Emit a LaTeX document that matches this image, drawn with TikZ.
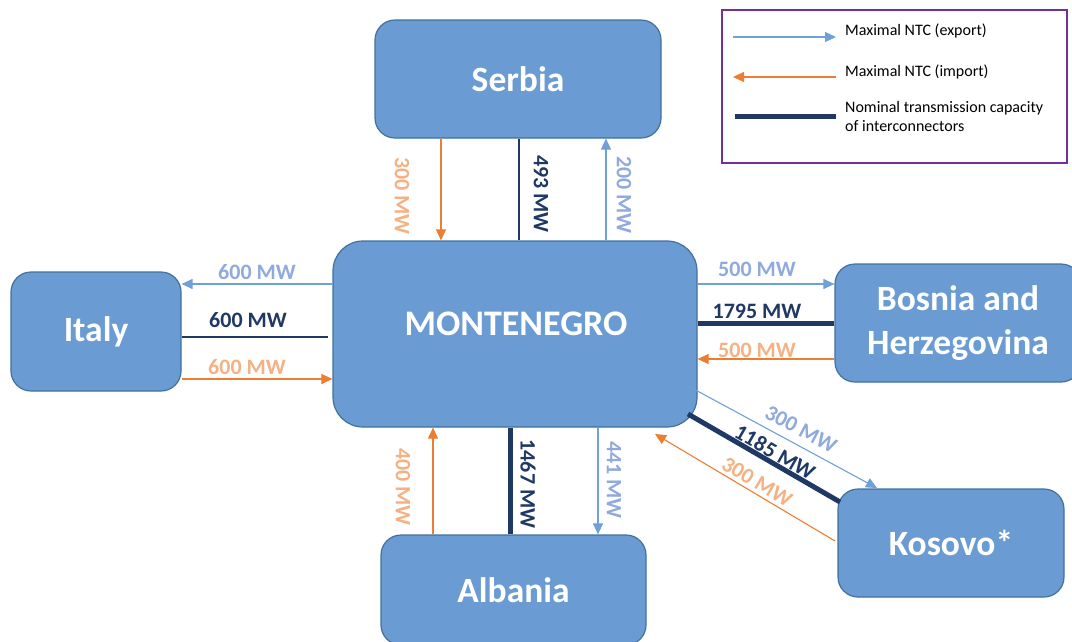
\documentclass[tikz,border=0pt]{standalone}
\usepackage{fontspec}
\setmainfont{Carlito}
\usetikzlibrary{arrows.meta}
\definecolor{boxfill}{HTML}{6A9BD2}
\definecolor{boxline}{HTML}{41719C}
\definecolor{expline}{HTML}{6FA0D8}
\definecolor{exptext}{HTML}{8FAADC}
\definecolor{impline}{HTML}{ED7D31}
\definecolor{imptext}{HTML}{F4B183}
\definecolor{navy}{HTML}{1F3864}
\definecolor{legendline}{HTML}{7030A0}
\begin{document}
\begin{tikzpicture}[x=1pt,y=-1pt,
  country/.style={draw=boxline, line width=1.2pt, fill=boxfill, text=white,
    font=\fontsize{35.5}{44}\selectfont\bfseries, align=center, inner sep=0pt, rounded corners=20pt},
  boxtext/.style={text=white, font=\fontsize{36}{44}\selectfont\bfseries, inner sep=0pt},
  export/.style={draw=expline, line width=1.1pt, -{Triangle[length=11pt,width=10pt]}},
  import/.style={draw=impline, line width=1.1pt, -{Triangle[length=11pt,width=10pt]}},
  nominal/.style={draw=navy, line width=#1}, nominal/.default=5pt,
  lab/.style={font=\fontsize{22}{24}\selectfont\bfseries, inner sep=0pt},
  explab/.style={lab, text=exptext},
  implab/.style={lab, text=imptext},
  nomlab/.style={lab, text=navy},
  legtext/.style={font=\fontsize{16}{19}\selectfont, text=black, inner sep=0pt, align=left, anchor=west}
]
\useasboundingbox (0,0) rectangle (1072,641);
\clip (0,0) rectangle (1072,641);

% countries
\node[country, minimum width=286pt, minimum height=118pt] (srb) at (518,79) {Serbia};
\node[country, minimum width=364pt, minimum height=186pt, rounded corners=30pt] (mne) at (515,334) {};
\node[boxtext] (mnetext) at (516,324) {MONTENEGRO};
\node[country, minimum width=170pt, minimum height=119pt] (ita) at (96,331.5) {Italy};
\node[country, minimum width=246pt, minimum height=118pt] (bih) at (958,323) {Bosnia and\\Herzegovina};
\node[country, minimum width=226pt, minimum height=108pt] (kos) at (951,543) {Kosovo*};
\node[country, minimum width=265pt, minimum height=110pt] (alb) at (513.5,590) {Albania};

% legend
\node[draw=legendline, line width=1.5pt, minimum width=345pt, minimum height=153pt, inner sep=0pt] (legend) at (894.5,86.5) {};
\coordinate (le1) at (733,37);
\coordinate (le2) at (836,37);
\coordinate (li1) at (836,77);
\coordinate (li2) at (733,77);
\coordinate (ln1) at (735,116);
\coordinate (ln2) at (836,116);
\draw[export] (le1) -- (le2);
\draw[import] (li1) -- (li2);
\draw[nominal] (ln1) -- (ln2);
\node[legtext] (lt1) at (845,31) {Maximal NTC (export)};
\node[legtext] (lt2) at (845,72) {Maximal NTC (import)};
\node[legtext] (lt3) at (845,116) {Nominal transmission capacity\\of interconnectors};

% Serbia
\draw[import] (441,0 |- srb.south) -- (441,0 |- mne.north);
\draw[nominal=1.3pt] (519,0 |- srb.south) -- (519,0 |- mne.north);
\draw[export] (606,0 |- mne.north) -- (606,0 |- srb.south);
\node[implab, rotate=-90] at (402,196) {300 MW};
\node[nomlab, rotate=-90] at (541,194) {493 MW};
\node[explab, rotate=-90] at (624,195) {200 MW};

% Italy
\coordinate (itn) at (328,337);
\draw[export] (mne.west |- 0,284) -- (ita.east |- 0,284);
\draw[nominal=2pt] (ita.east |- itn) -- (itn);
\draw[import] (ita.east |- 0,379) -- (mne.west |- 0,379);
\node[explab] at (257,272) {600 MW};
\node[nomlab] at (248,320) {600 MW};
\node[implab] at (247,367) {600 MW};

% Bosnia and Herzegovina
\draw[export] (mne.east |- 0,284) -- (bih.west |- 0,284);
\draw[nominal] (mne.east |- 0,323) -- (bih.west |- 0,323);
\draw[import] (bih.west |- 0,359) -- (mne.east |- 0,359);
\node[explab] at (757,269) {500 MW};
\node[nomlab] at (757,311) {1795 MW};
\node[implab] at (757,350) {500 MW};

% Kosovo
\coordinate (ke1) at (690,387);
\coordinate (ke2) at (877,488);
\coordinate (kn1) at (688,414);
\coordinate (kn2) at (840,502);
\coordinate (ki1) at (835,541);
\coordinate (ki2) at (655,434);
\draw[export] (ke1) -- (ke2);
\draw[nominal] (kn1) -- (kn2);
\draw[import] (ki1) -- (ki2);
\node[explab, rotate=-28] at (801,429) {300 MW};
\node[nomlab, rotate=-30] at (775,452) {1185 MW};
\node[implab, rotate=-31] at (757,482) {300 MW};

% Albania
\draw[import] (433,0 |- alb.north) -- (433,0 |- mne.south);
\draw[nominal] (510,0 |- mne.south) -- (510,0 |- alb.north);
\draw[export] (598,0 |- mne.south) -- (598,0 |- alb.north);
\node[implab, rotate=-90] at (403,487) {400 MW};
\node[nomlab, rotate=-90] at (528,484) {1467 MW};
\node[explab, rotate=-90] at (614,480) {441 MW};
\end{tikzpicture}
\end{document}
